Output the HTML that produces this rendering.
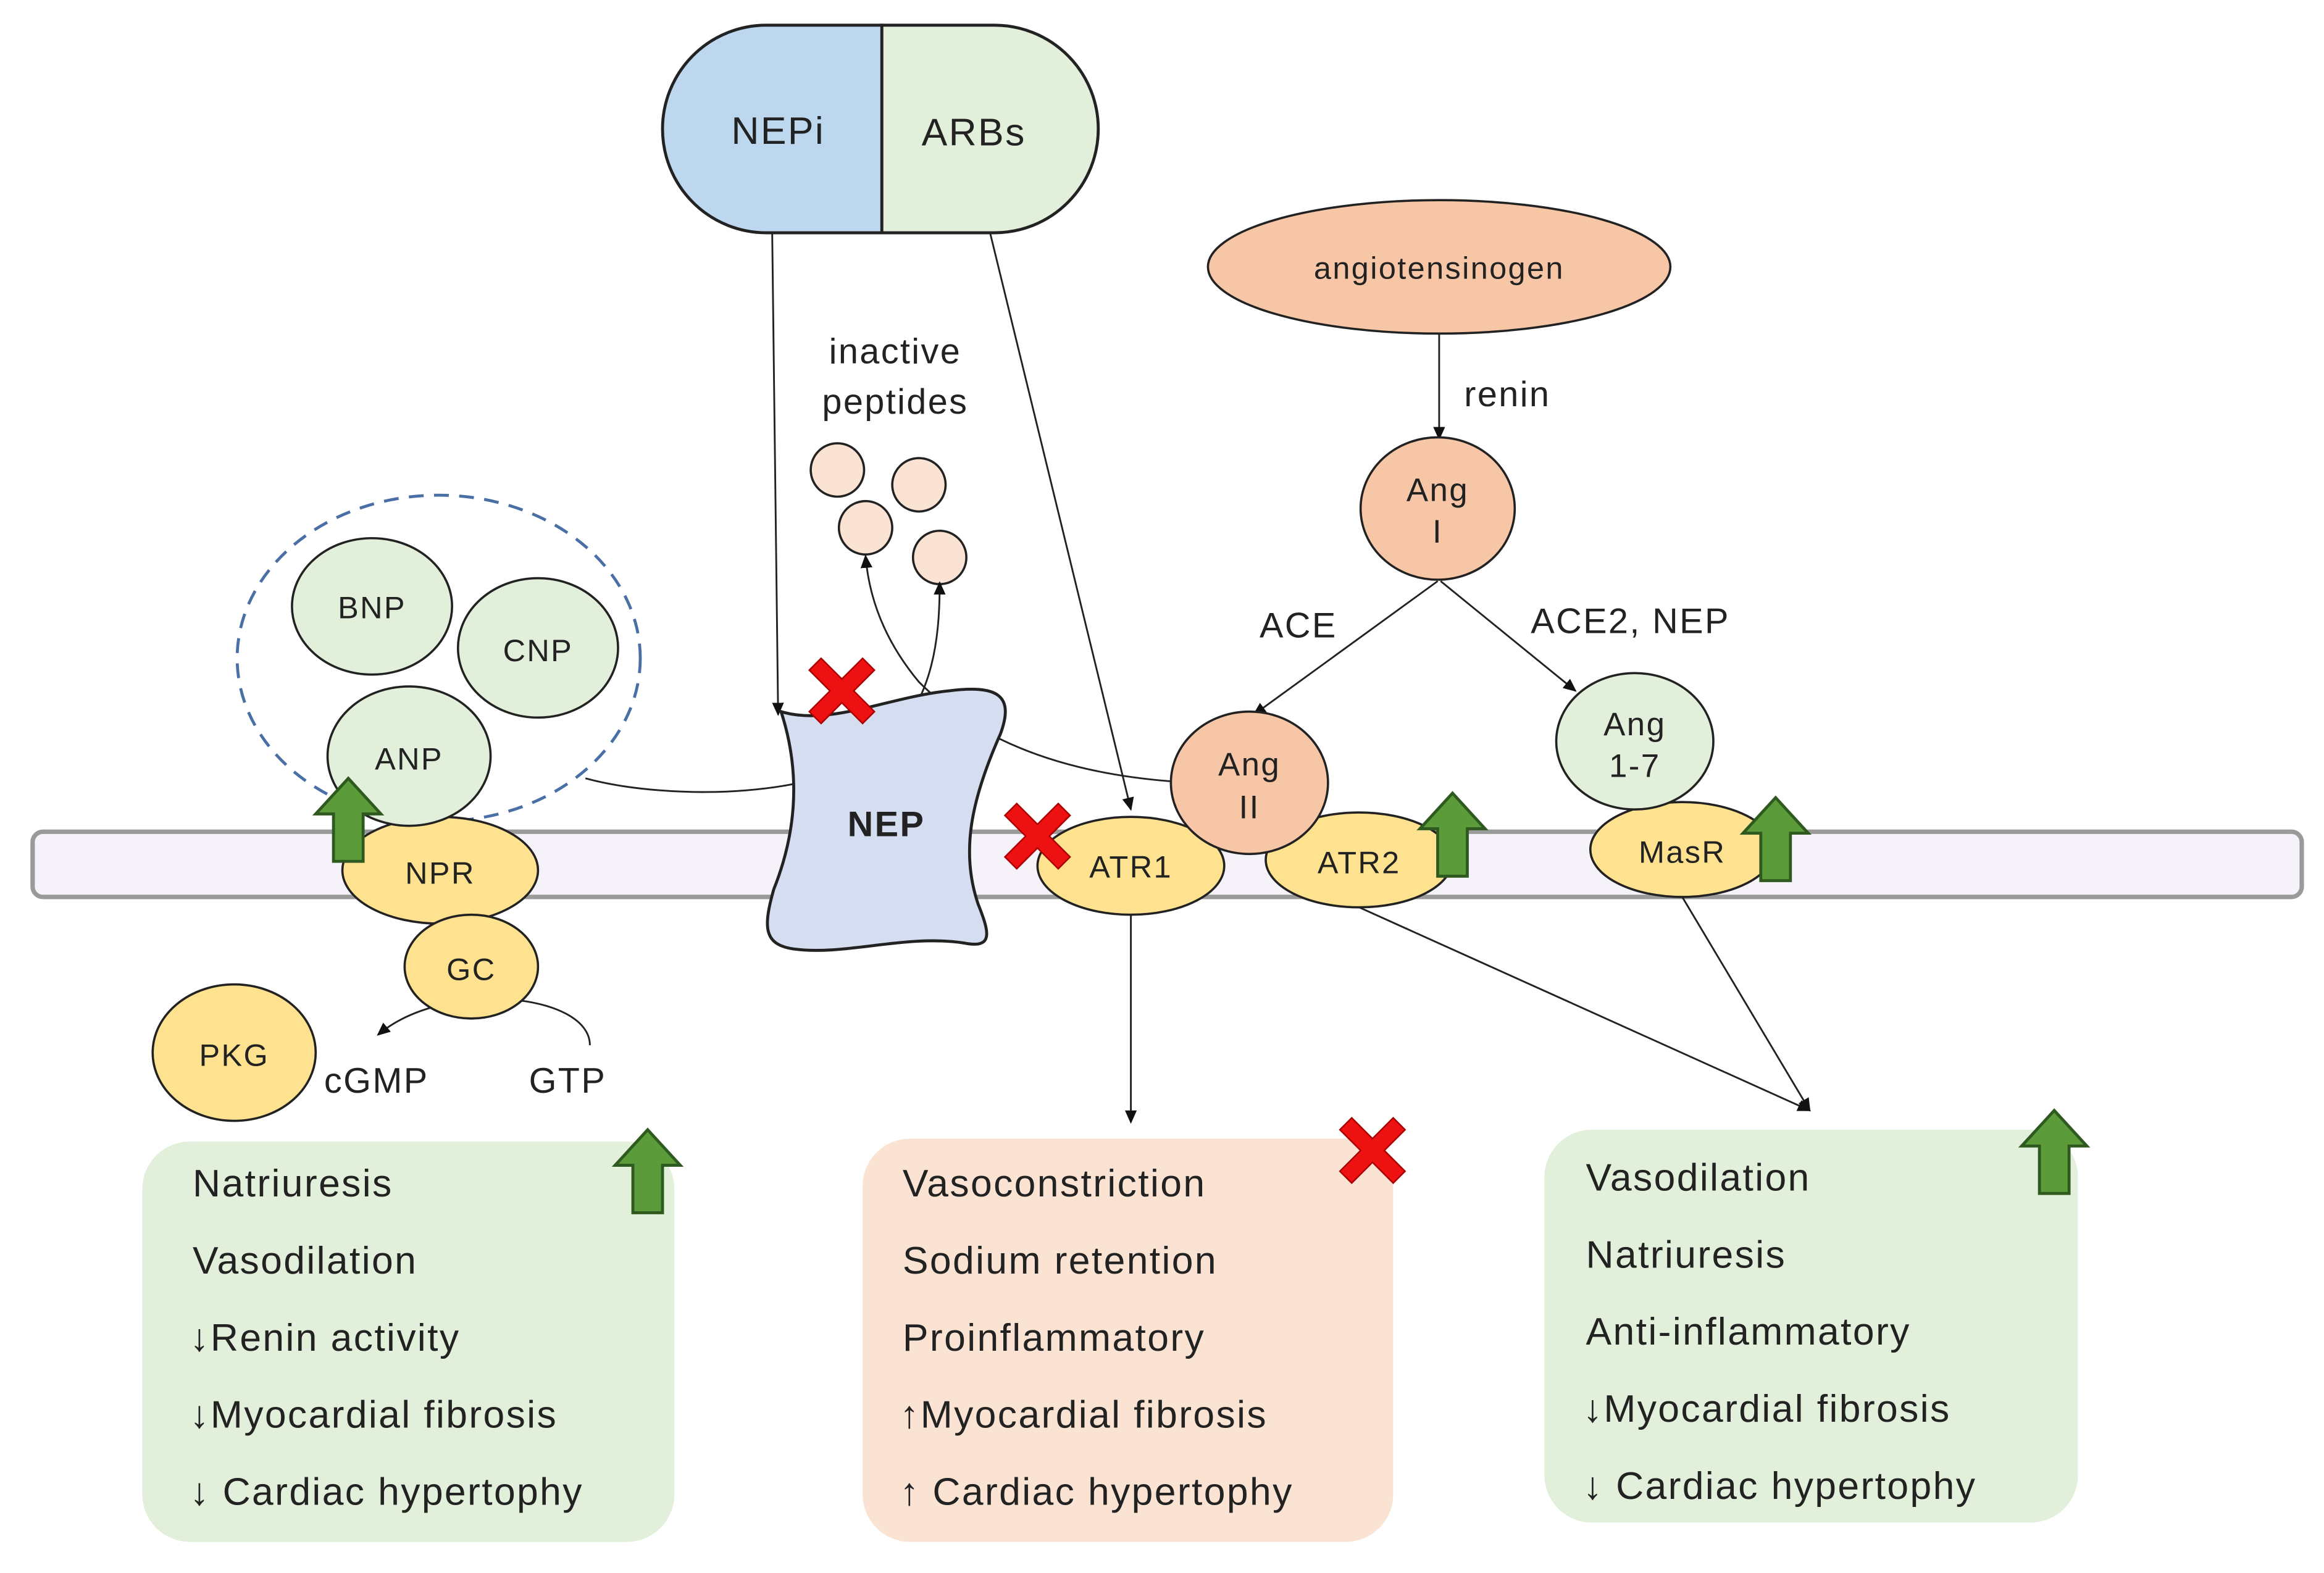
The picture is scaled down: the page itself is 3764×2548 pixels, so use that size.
<!DOCTYPE html>
<html><head><meta charset="utf-8"><style>
html,body{margin:0;padding:0;background:#fff;}
svg{display:block;}
text{font-family:"Liberation Sans","DejaVu Sans",sans-serif;fill:#222;letter-spacing:1px;}
</style></head><body>
<svg width="3764" height="2548" viewBox="0 0 1568 1061" preserveAspectRatio="none" xmlns="http://www.w3.org/2000/svg">
<defs>
<marker id="ah" markerWidth="10" markerHeight="10" refX="8" refY="5" orient="auto" markerUnits="userSpaceOnUse"><path d="M0,1 L9,5 L0,9 z" fill="#111"/></marker>
<g id="up"><path d="M0,-28 L22,-4 L10,-4 L10,28 L-10,28 L-10,-4 L-22,-4 z" fill="#5b9b3a" stroke="#2f5a1f" stroke-width="2"/></g>
<g id="rx"><path d="M-22,-14 L-14,-22 L0,-8 L14,-22 L22,-14 L8,0 L22,14 L14,22 L0,8 L-14,22 L-22,14 L-8,0 z" fill="#ee1111" stroke="#a00" stroke-width="1"/></g>
</defs>
<rect width="1568" height="1061" fill="#fff"/>

<rect x="96" y="770" width="359" height="270" rx="32" fill="#e2efda"/>
<rect x="582" y="768" width="358" height="272" rx="32" fill="#fbe3d4"/>
<rect x="1042" y="762" width="360" height="265" rx="32" fill="#e2efda"/>
<g font-size="26">
<text x="130" y="807">Natriuresis</text>
<text x="130" y="859">Vasodilation</text>
<text x="128" y="911">↓Renin activity</text>
<text x="128" y="963">↓Myocardial fibrosis</text>
<text x="128" y="1015">↓ Cardiac hypertophy</text>
<text x="609" y="807">Vasoconstriction</text>
<text x="609" y="859">Sodium retention</text>
<text x="609" y="911">Proinflammatory</text>
<text x="607" y="963">↑Myocardial fibrosis</text>
<text x="607" y="1015">↑ Cardiac hypertophy</text>
<text x="1070" y="803">Vasodilation</text>
<text x="1070" y="855">Natriuresis</text>
<text x="1070" y="907">Anti-inflammatory</text>
<text x="1068" y="959">↓Myocardial fibrosis</text>
<text x="1068" y="1011">↓ Cardiac hypertophy</text>
</g>

<rect x="22" y="561" width="1531" height="44" rx="7" fill="#f6f2fa" stroke="#9a9a9a" stroke-width="3"/>

<path d="M517,17 L595,17 L595,157 L517,157 A70,70 0 0 1 517,17 z" fill="#bdd7ee" stroke="#222" stroke-width="2"/>
<path d="M595,17 L671,17 A70,70 0 0 1 671,157 L595,157 z" fill="#e2efda" stroke="#222" stroke-width="2"/>
<text x="525" y="97" font-size="26" text-anchor="middle">NEPi</text>
<text x="657" y="98" font-size="26" text-anchor="middle">ARBs</text>

<ellipse cx="971" cy="180" rx="156" ry="45" fill="#f6c6a6" stroke="#222" stroke-width="1.5"/>
<text x="971" y="188" font-size="21" text-anchor="middle">angiotensinogen</text>
<text x="1017" y="274" font-size="24" text-anchor="middle">renin</text>

<text x="604" y="245" font-size="24" text-anchor="middle">inactive</text>
<text x="604" y="279" font-size="24" text-anchor="middle">peptides</text>
<g fill="#fbe3d4" stroke="#222" stroke-width="1.5">
<circle cx="565" cy="317" r="18"/><circle cx="620" cy="327" r="18"/>
<circle cx="584" cy="356" r="18"/><circle cx="634" cy="376" r="18"/>
</g>

<g stroke="#222" stroke-width="1.2" fill="none" marker-end="url(#ah)">
<line x1="521" y1="157" x2="525" y2="482"/>
<line x1="668" y1="157" x2="763" y2="546"/>
<line x1="971" y1="225" x2="971" y2="296"/>
<line x1="970" y1="392" x2="846" y2="482"/>
<line x1="972" y1="392" x2="1063" y2="466"/>
<path d="M395,525 C450,540 560,540 600,500 C630,470 634,430 634,393"/>
<path d="M790,527 C700,520 650,490 620,460 C595,430 586,400 584,375"/>
<line x1="763" y1="617" x2="763" y2="757"/>
<line x1="917" y1="612" x2="1221" y2="749"/>
<line x1="1135" y1="605" x2="1221" y2="749"/>
<path d="M398,705 C398,670 300,660 255,698"/>
</g>
<text x="876" y="430" font-size="24" text-anchor="middle">ACE</text>
<text x="1100" y="427" font-size="24" text-anchor="middle">ACE2, NEP</text>

<path d="M527,480 C560,490 600,470 640,466 C672,462 685,468 675,495 C655,540 648,575 660,610 C668,630 670,640 650,636 C610,630 570,645 535,640 C515,637 515,625 522,600 C538,560 540,520 527,480 z" fill="#d5def0" stroke="#222" stroke-width="2"/>
<text x="598" y="564" font-size="24" text-anchor="middle" font-weight="bold">NEP</text>

<ellipse cx="296" cy="444" rx="136" ry="110" fill="none" stroke="#4a6fa5" stroke-width="2" stroke-dasharray="10,7"/>
<g fill="#e2efda" stroke="#222" stroke-width="1.5">
<ellipse cx="251" cy="409" rx="54" ry="46"/>
<ellipse cx="363" cy="437" rx="54" ry="47"/>
</g>
<text x="251" y="417" font-size="21" text-anchor="middle">BNP</text>
<text x="363" y="446" font-size="21" text-anchor="middle">CNP</text>

<g fill="#ffe28f" stroke="#222" stroke-width="1.5">
<ellipse cx="297" cy="587" rx="66" ry="36"/>
<ellipse cx="318" cy="652" rx="45" ry="35"/>
<ellipse cx="158" cy="710" rx="55" ry="46"/>
<ellipse cx="763" cy="584" rx="63" ry="33"/>
<ellipse cx="917" cy="580" rx="63" ry="32"/>
<ellipse cx="1135" cy="573" rx="62" ry="32"/>
</g>
<ellipse cx="276" cy="510" rx="55" ry="47" fill="#e2efda" stroke="#222" stroke-width="1.5"/>
<text x="276" y="519" font-size="21" text-anchor="middle">ANP</text>
<text x="297" y="596" font-size="21" text-anchor="middle">NPR</text>
<text x="318" y="661" font-size="21" text-anchor="middle">GC</text>
<text x="158" y="719" font-size="21" text-anchor="middle">PKG</text>
<text x="254" y="737" font-size="24" text-anchor="middle">cGMP</text>
<text x="383" y="737" font-size="24" text-anchor="middle">GTP</text>
<text x="763" y="592" font-size="21" text-anchor="middle">ATR1</text>
<text x="917" y="589" font-size="21" text-anchor="middle">ATR2</text>
<text x="1135" y="582" font-size="21" text-anchor="middle">MasR</text>

<ellipse cx="970" cy="343" rx="52" ry="48" fill="#f6c6a6" stroke="#222" stroke-width="1.5"/>
<text x="970" y="338" font-size="22" text-anchor="middle">Ang</text>
<text x="970" y="366" font-size="22" text-anchor="middle">I</text>
<ellipse cx="843" cy="528" rx="53" ry="48" fill="#f6c6a6" stroke="#222" stroke-width="1.5"/>
<text x="843" y="523" font-size="22" text-anchor="middle">Ang</text>
<text x="843" y="552" font-size="22" text-anchor="middle">II</text>
<ellipse cx="1103" cy="500" rx="53" ry="46" fill="#e2efda" stroke="#222" stroke-width="1.5"/>
<text x="1103" y="496" font-size="22" text-anchor="middle">Ang</text>
<text x="1103" y="524" font-size="22" text-anchor="middle">1-7</text>

<use href="#up" x="235" y="553"/>
<use href="#up" x="980" y="563"/>
<use href="#up" x="1198" y="566"/>
<use href="#up" x="437" y="790"/>
<use href="#up" x="1386" y="777"/>
<use href="#rx" x="568" y="466"/>
<use href="#rx" x="700" y="564"/>
<use href="#rx" x="926" y="776"/>
</svg>
</body></html>
